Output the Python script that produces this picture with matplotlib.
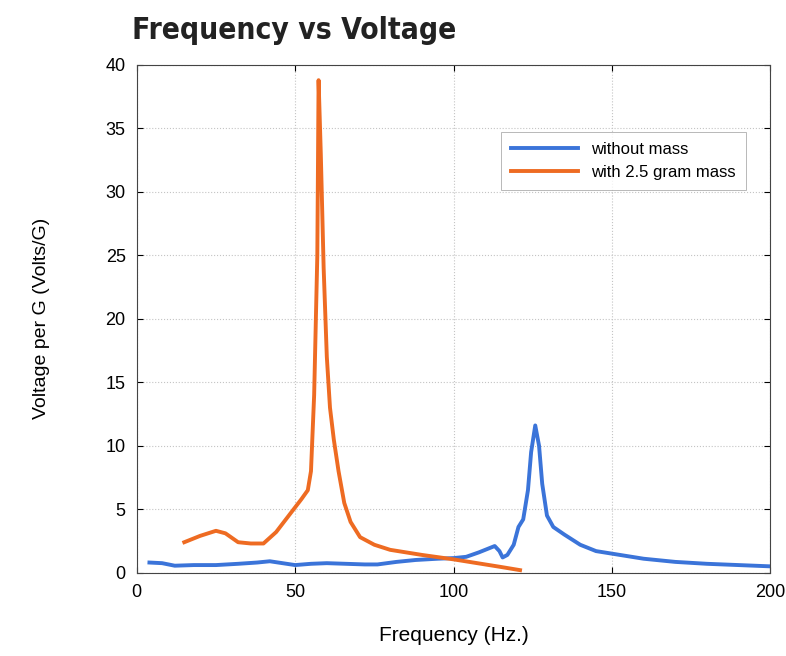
import matplotlib
matplotlib.use("Agg")
import matplotlib.pyplot as plt

plt.rcParams['font.family'] = ['Liberation Sans Narrow', 'Liberation Sans', 'DejaVu Sans']

# without mass (blue)
freq_nomass = [4, 8, 12, 18, 25, 32, 38, 42, 46, 50, 55, 60, 66, 72, 76, 82, 88, 95,
               100, 104, 108, 111, 113, 114.5, 115.5, 117, 119, 120.5, 122, 123.5, 124.5,
               125.8, 127, 128, 129.5, 131.5, 135, 140, 145, 150, 160, 170, 180, 190, 200]
volt_nomass = [0.8, 0.75, 0.55, 0.6, 0.6, 0.7, 0.8, 0.9, 0.75, 0.6, 0.7, 0.75, 0.7, 0.65,
               0.65, 0.85, 1.0, 1.1, 1.15, 1.25, 1.6, 1.9, 2.1, 1.7, 1.2, 1.4, 2.2, 3.6,
               4.2, 6.5, 9.5, 11.6, 10.0, 7.0, 4.5, 3.6, 3.0, 2.2, 1.7, 1.5, 1.1, 0.85,
               0.7, 0.6, 0.5]

# with 2.5 gram mass (orange)
freq_mass = [15, 20, 25, 28, 32, 36, 40, 44, 48, 52, 54, 55, 56, 57, 57.4, 58.1,
             59.0, 60.0, 61.0, 62.2, 63.7, 65.5, 67.5, 70.5, 75, 80, 90, 100, 110, 115, 121]
volt_mass = [2.4, 2.9, 3.3, 3.1, 2.4, 2.3, 2.3, 3.2, 4.5, 5.8, 6.5, 8.0, 14.0, 25.0,
             38.8, 33.0, 24.0, 17.0, 13.0, 10.5, 8.0, 5.5, 4.0, 2.8, 2.2, 1.8, 1.4,
             1.05, 0.65, 0.45, 0.2]

fig = plt.figure(figsize=(7.86, 6.56), dpi=100)
ax = fig.add_axes([0.174, 0.127, 0.806, 0.774])

ax.plot(freq_nomass, volt_nomass, color='#3b74d9', lw=2.8, label='without mass')
ax.plot(freq_mass, volt_mass, color='#ee6b22', lw=2.8, label='with 2.5 gram mass')

ax.set_xlim(0, 200)
ax.set_ylim(0, 40)
ax.set_xticks([0, 50, 100, 150, 200])
ax.set_yticks([0, 5, 10, 15, 20, 25, 30, 35, 40])
ax.tick_params(direction='in', top=True, right=True, labelsize=13, length=4, pad=8)
ax.grid(True, linestyle=':', color='#c4c4c4', lw=0.8)
for s in ax.spines.values():
    s.set_color('#444444')
    s.set_linewidth(0.8)

ax.set_xlabel('Frequency (Hz.)', fontsize=15, labelpad=18)
ax.set_ylabel('Voltage per G (Volts/G)', fontsize=14, labelpad=40)

fig.text(0.168, 0.953, 'Frequency vs Voltage', fontsize=21.5, fontweight='bold',
         family='DejaVu Sans', fontstretch='condensed',
         ha='left', va='center', color='#222222')

leg = ax.legend(loc='upper right', bbox_to_anchor=(0.975, 0.885), fontsize=12,
                handlelength=4, frameon=True, fancybox=False, borderpad=0.6)
leg.get_frame().set_edgecolor('#999999')
leg.get_frame().set_linewidth(0.6)

fig.savefig('out.png', dpi=100)
